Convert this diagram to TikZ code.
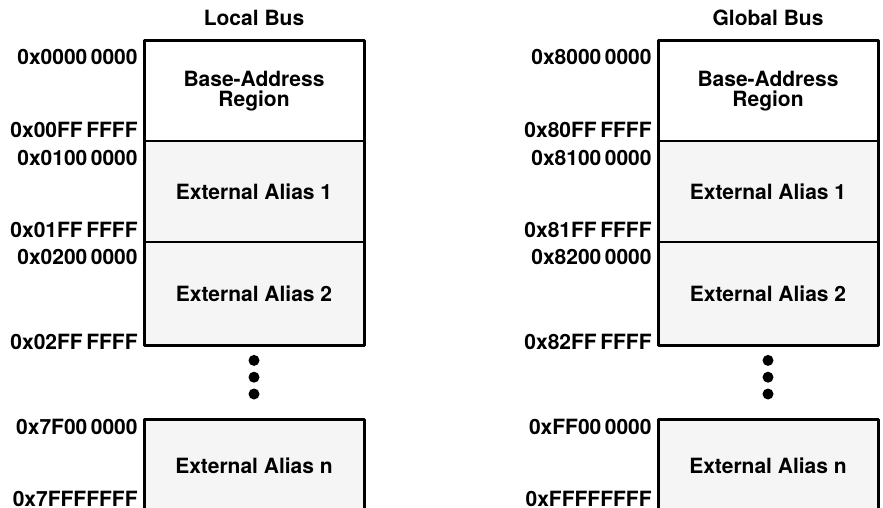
\documentclass[tikz,border=0pt]{standalone}
\usepackage{fontspec}
\setmainfont{TeX Gyre Heros}
\usetikzlibrary{positioning}
\tikzset{
    region/.style = {draw, rectangle, line width=0.6pt, outer sep=0pt,
        minimum width=110pt, align=center, fill=white},
    alias/.style = {region, fill=gray!8},
    outline/.style = {line width=1.5pt, line join=round},
    addr/.style = {anchor=east, inner sep=0pt},
    title/.style = {inner sep=0pt},
    dot/.style = {circle, fill, inner sep=0pt, minimum size=5.5pt},
}

\begin{document}
\begin{tikzpicture}[node distance=0pt, font=\fontsize{10.5}{10}\selectfont\bfseries]
	\useasboundingbox (0,0) rectangle (441.5pt,-254pt);

	% local bus
	\node [region, anchor=north west, minimum height=50pt] (lbase) at (72pt,-20.5pt) {Base-Address\\Region};
	\node [alias, below=of lbase, minimum height=50.5pt] (lalias1) {External Alias 1};
	\node [alias, below=of lalias1, minimum height=51.5pt] (lalias2) {External Alias 2};
	\node [dot, below=4.75pt of lalias2] (ldot1) {};
	\node [dot, below=2.5pt of ldot1] (ldot2) {};
	\node [dot, below=2.5pt of ldot2] (ldot3) {};
	\node [alias, draw=none, below=10pt of ldot3, minimum height=45.5pt] (laliasn) {External Alias n};
	\node [title, above=7.5pt of lbase] (ltitle) {Local Bus};

	% global bus
	\node [region, anchor=north west, minimum height=50pt] (gbase) at (329pt,-20.5pt) {Base-Address\\Region};
	\node [alias, below=of gbase, minimum height=50.5pt] (galias1) {External Alias 1};
	\node [alias, below=of galias1, minimum height=51.5pt] (galias2) {External Alias 2};
	\node [dot, below=4.75pt of galias2] (gdot1) {};
	\node [dot, below=2.5pt of gdot1] (gdot2) {};
	\node [dot, below=2.5pt of gdot2] (gdot3) {};
	\node [alias, draw=none, below=10pt of gdot3, minimum height=45.5pt] (galiasn) {External Alias n};
	\node [title, above=7.5pt of gbase] (gtitle) {Global Bus};

	%% outlines
	\draw [outline] (lbase.north west) rectangle (lalias2.south east);
	\draw [outline] (laliasn.south west) |- (laliasn.north east) -- (laliasn.south east);
	\draw [outline] (gbase.north west) rectangle (galias2.south east);
	\draw [outline] (galiasn.south west) |- (galiasn.north east) -- (galiasn.south east);

	%% local addresses
	\node [addr] (lbaseLo) at ([xshift=-3pt,yshift=-8pt]lbase.north west) {0x0000\,0000};
	\node [addr] (lbaseHi) at ([xshift=-3pt,yshift=5.75pt]lbase.south west) {0x00FF\,FFFF};
	\node [addr] (lalias1Lo) at ([xshift=-3pt,yshift=-8.25pt]lalias1.north west) {0x0100\,0000};
	\node [addr] (lalias1Hi) at ([xshift=-3pt,yshift=6pt]lalias1.south west) {0x01FF\,FFFF};
	\node [addr] (lalias2Lo) at ([xshift=-3pt,yshift=-7.25pt]lalias2.north west) {0x0200\,0000};
	\node [addr] (lalias2Hi) at ([xshift=-3pt,yshift=1.5pt]lalias2.south west) {0x02FF\,FFFF};
	\node [addr] (laliasnLo) at ([xshift=-3pt,yshift=-3.75pt]laliasn.north west) {0x7F00\,0000};
	\node [addr] (laliasnHi) at ([xshift=-3pt,yshift=6pt]laliasn.south west) {0x7FFFFFFF};

	%% global addresses
	\node [addr] (gbaseLo) at ([xshift=-3pt,yshift=-8pt]gbase.north west) {0x8000\,0000};
	\node [addr] (gbaseHi) at ([xshift=-3pt,yshift=5.75pt]gbase.south west) {0x80FF\,FFFF};
	\node [addr] (galias1Lo) at ([xshift=-3pt,yshift=-8.25pt]galias1.north west) {0x8100\,0000};
	\node [addr] (galias1Hi) at ([xshift=-3pt,yshift=6pt]galias1.south west) {0x81FF\,FFFF};
	\node [addr] (galias2Lo) at ([xshift=-3pt,yshift=-7.25pt]galias2.north west) {0x8200\,0000};
	\node [addr] (galias2Hi) at ([xshift=-3pt,yshift=1.5pt]galias2.south west) {0x82FF\,FFFF};
	\node [addr] (galiasnLo) at ([xshift=-3pt,yshift=-3.75pt]galiasn.north west) {0xFF00\,0000};
	\node [addr] (galiasnHi) at ([xshift=-3pt,yshift=6pt]galiasn.south west) {0xFFFFFFFF};
\end{tikzpicture}
\end{document}
